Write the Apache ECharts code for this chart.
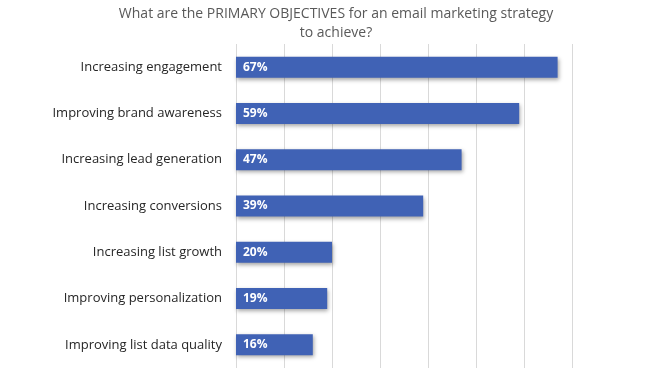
<!DOCTYPE html>
<html>
<head>
<meta charset="utf-8">
<script src="https://cdn.jsdelivr.net/npm/echarts@6/dist/echarts.min.js"></script>
<style>
  html, body { margin: 0; padding: 0; background: #fff; }
  #chart { width: 657px; height: 375px; }
</style>
</head>
<body>
<div id="chart"></div>
<script>
// categories top to bottom
const categories = [
    'Increasing engagement',
    'Improving brand awareness',
    'Increasing lead generation',
    'Increasing conversions',
    'Increasing list growth',
    'Improving personalization',
    'Improving list data quality'
];
const percentValues = [67, 59, 47, 39, 20, 19, 16];
const titleLines = ['What are the PRIMARY OBJECTIVES for an email marketing strategy', 'to achieve?'];

let myChart = echarts.init(document.getElementById('chart'));

myChart.setOption({
    animation: false,
    title: {
        text: titleLines.join('\n'),
        left: 331,
        textAlign: 'center',
        top: 0,
        textStyle: {
            fontFamily: 'Open Sans',
            fontWeight: 'normal',
            fontSize: 14,
            lineHeight: 19,
            color: '#595959'
        }
    },
    grid: {
        left: 236,
        width: 336,
        top: 44,
        bottom: 7
    },
    xAxis: {
        type: 'value',
        min: 0,
        max: 70,
        interval: 10,
        axisLabel: { show: false },
        axisLine: { show: false },
        axisTick: { show: false },
        splitLine: { lineStyle: { color: '#d9d9d9', width: 1 } }
    },
    yAxis: {
        type: 'category',
        inverse: true,
        data: categories,
        axisLine: { show: false },
        axisTick: { show: false },
        axisLabel: {
            margin: 14,
            fontFamily: 'Open Sans',
            fontSize: 13,
            color: '#262626'
        }
    },
    series: [{
        type: 'bar',
        data: percentValues,
        barWidth: 21,
        itemStyle: {
            color: '#4062b5',
            shadowColor: 'rgba(0,0,0,0.35)',
            shadowBlur: 4,
            shadowOffsetX: 1,
            shadowOffsetY: 2
        },
        label: {
            show: true,
            position: 'insideLeft',
            offset: [2, 0],
            formatter: '{c}%',
            fontFamily: 'Open Sans',
            fontWeight: 'bold',
            fontSize: 12,
            color: '#ffffff'
        }
    }]
});
</script>
</body>
</html>
